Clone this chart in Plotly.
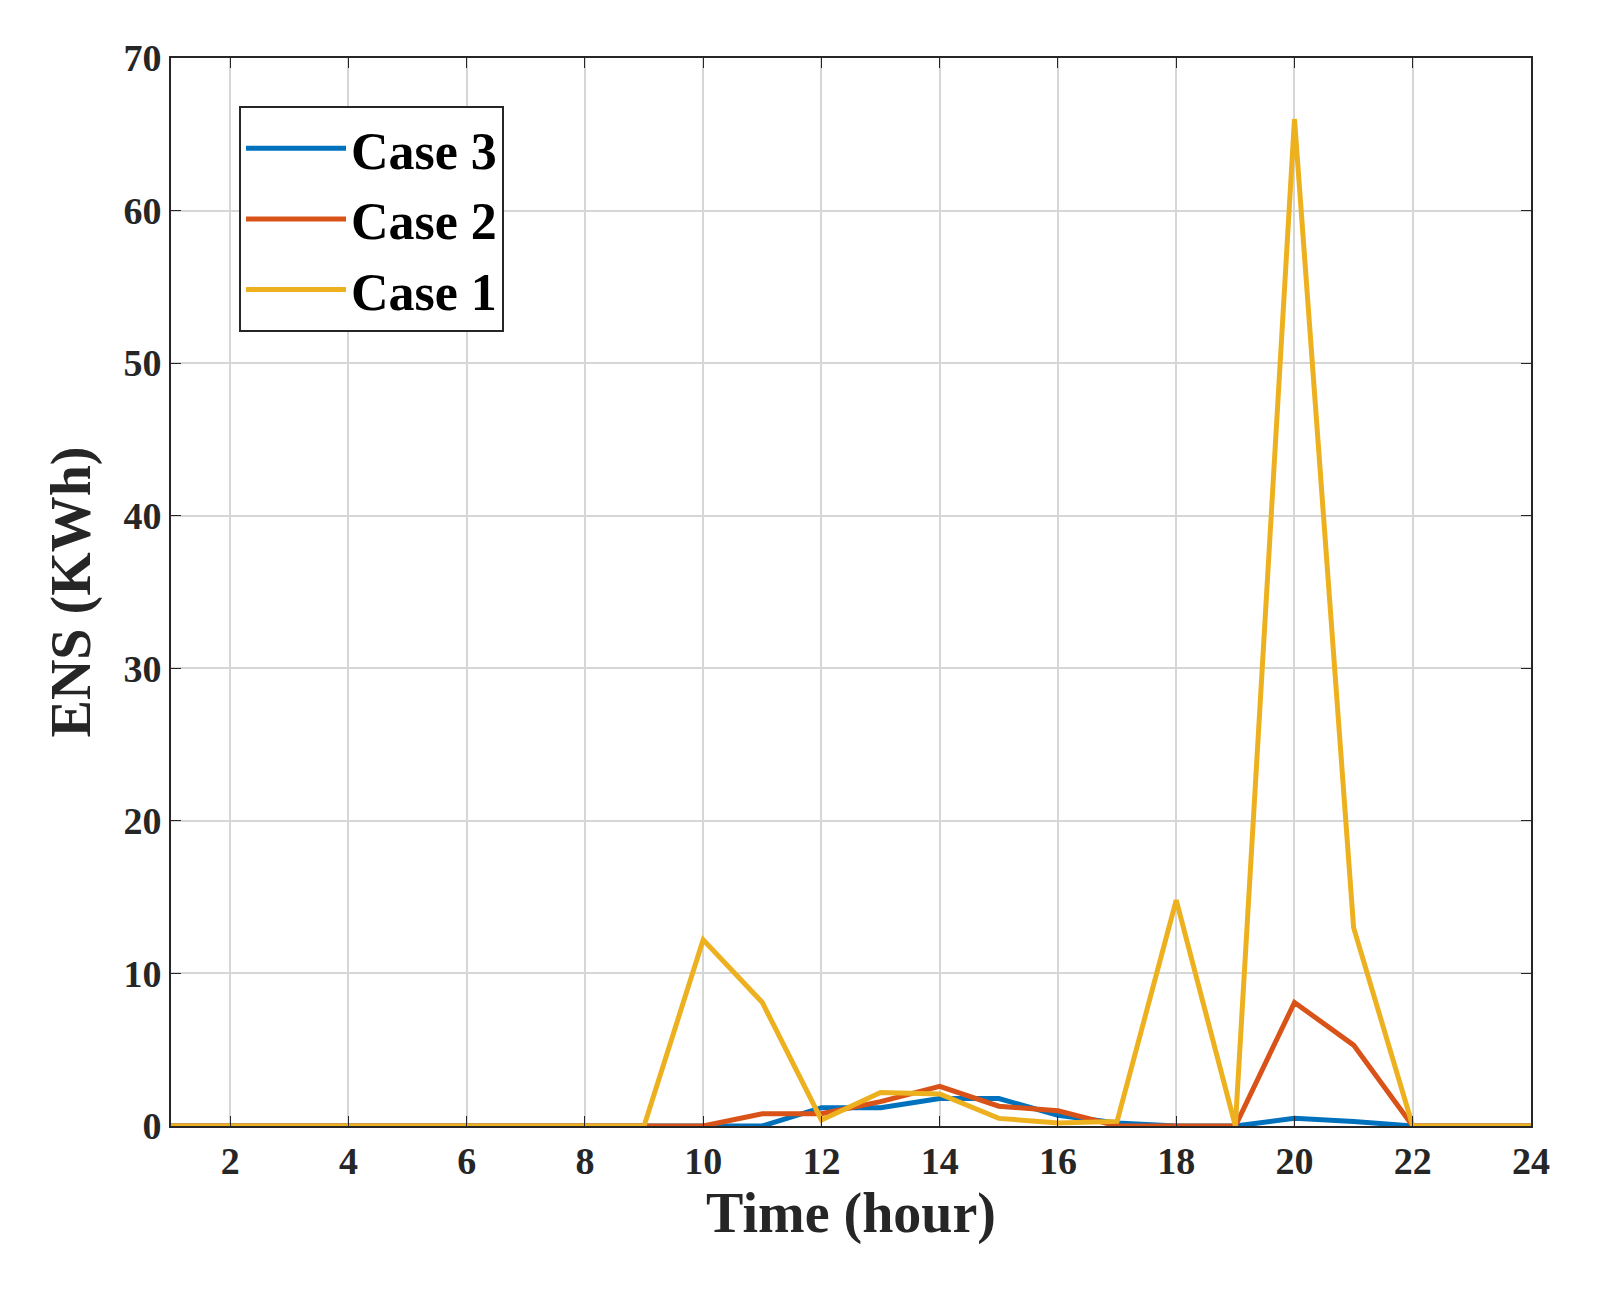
import plotly.graph_objects as go

hours = list(range(1, 25))
case3 = [0]*11 + [1.2, 1.2, 1.8, 1.8, 0.7, 0.2, 0, 0, 0.5, 0.3, 0, 0, 0]
case2 = [0]*10 + [0.8, 0.8, 1.6, 2.6, 1.3, 1.0, 0, 0, 0, 8.1, 5.3, 0, 0, 0]
case1 = [0]*9 + [12.2, 8.1, 0.4, 2.2, 2.1, 0.5, 0.2, 0.3, 14.8, 0, 66, 13, 0, 0, 0]
xticks = list(range(2, 25, 2))
yticks = list(range(0, 71, 10))

fig = go.Figure()
for name, y, c in [("Case 3", case3, "#0072BD"), ("Case 2", case2, "#D95319"), ("Case 1", case1, "#EDB120")]:
    fig.add_trace(go.Scatter(x=hours, y=y, mode="lines", name="<b>%s</b>" % name, line=dict(color=c, width=5)))

font = "Liberation Serif"
ax = dict(showline=True, linecolor="#262626", linewidth=2, mirror="ticks", ticks="inside", ticklen=10,
          tickcolor="#262626", showgrid=True, gridcolor="#D6D6D6", gridwidth=2, zeroline=False,
          tickfont=dict(family=font, size=38, color="#262626", weight="bold"))
fig.update_xaxes(**ax, range=[1, 24], tickvals=xticks, ticktext=["<b>%d</b>" % v for v in xticks],
                 title=dict(text="<b>Time (hour)</b>", font=dict(family=font, size=56, color="#262626"), standoff=10))
fig.update_yaxes(**ax, range=[0, 70], tickvals=yticks, ticktext=["<b>%d</b>" % v for v in yticks],
                 title=dict(text="<b>ENS (KWh)</b>", font=dict(family=font, size=56, color="#262626"), standoff=15))
fig.update_layout(width=1601, height=1312, plot_bgcolor="white", paper_bgcolor="white",
                  margin=dict(l=163, r=78, t=50, b=194),
                  font=dict(family=font, color="#262626", size=38),
                  legend=dict(x=0.05, y=0.955, xanchor="left", yanchor="top", bgcolor="white",
                              bordercolor="#262626", borderwidth=2,
                              font=dict(family=font, size=52, color="black"), itemwidth=100))
fig.write_html("out.html")
